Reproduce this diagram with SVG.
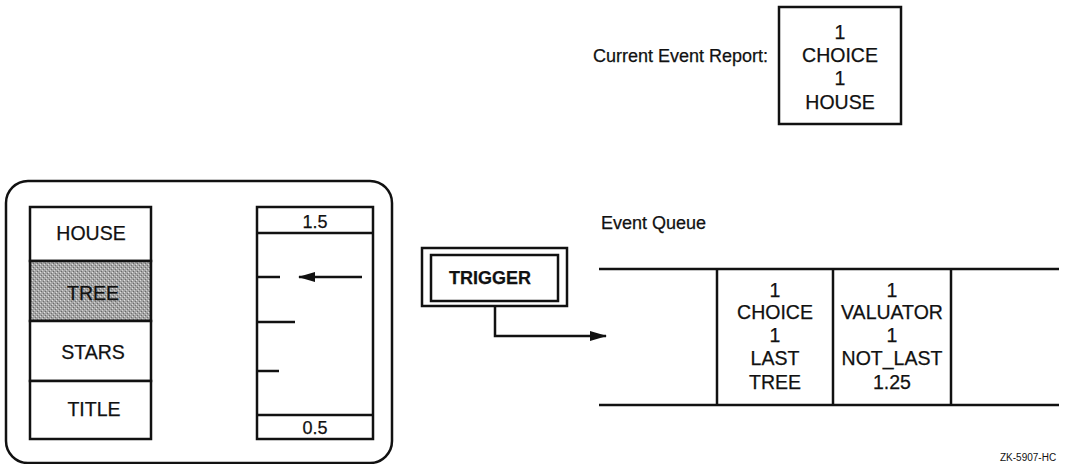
<svg xmlns="http://www.w3.org/2000/svg" width="1066" height="464" viewBox="0 0 1066 464">
<defs>
<style>
.t{font-family:"Liberation Sans",Arial,sans-serif;font-size:19.5px;fill:#111;text-anchor:middle;stroke:#111;stroke-width:0.25}
.s{font-family:"Liberation Sans",Arial,sans-serif;font-size:18px;fill:#111;stroke:#111;stroke-width:0.25}
.b{stroke:#111;stroke-width:2.5;fill:none}
.f{stroke:#111;stroke-width:2.5;fill:#fff}
</style>
<pattern id="stip" width="4" height="4" patternUnits="userSpaceOnUse">
<rect width="4" height="4" fill="#a4a4a4"/>
<rect x="0" y="0" width="1" height="1" fill="#e0e0e0"/>
<rect x="2" y="2" width="1" height="1" fill="#d0d0d0"/>
<rect x="1" y="3" width="1" height="1" fill="#6a6a6a"/>
<rect x="3" y="1" width="1" height="1" fill="#707070"/>
</pattern>
<marker id="ah" markerWidth="17" markerHeight="10" refX="16" refY="5" orient="auto" markerUnits="userSpaceOnUse">
<path d="M0,0 L17,5 L0,10 Z" fill="#111"/>
</marker>
</defs>
<rect width="1066" height="464" fill="#fff"/>

<g id="current-event-report">
<text class="s" x="768" y="62" text-anchor="end">Current Event Report:</text>
<rect class="f" x="779" y="7" width="122" height="117"/>
<text class="t" x="840" y="39">1</text>
<text class="t" x="840" y="62">CHOICE</text>
<text class="t" x="840" y="85">1</text>
<text class="t" x="840" y="109">HOUSE</text>
</g>

<g id="workstation">
<rect class="b" x="6" y="181" width="386" height="282" rx="22" ry="22"/>
</g>

<g id="choice-menu">
<rect class="f" x="30" y="207" width="121" height="54"/>
<text class="t" x="91" y="240">HOUSE</text>
<rect x="30" y="261" width="121" height="60" fill="url(#stip)" stroke="#111" stroke-width="2.5"/>
<text class="t" x="93" y="300">TREE</text>
<rect class="f" x="30" y="321" width="121" height="60"/>
<text class="t" x="93" y="359">STARS</text>
<rect class="f" x="30" y="381" width="121" height="58"/>
<text class="t" x="94" y="416">TITLE</text>
</g>

<g id="valuator">
<rect class="f" x="257" y="207" width="116" height="232"/>
<line class="b" x1="257" y1="233" x2="373" y2="233"/>
<line class="b" x1="257" y1="415" x2="373" y2="415"/>
<text class="t" x="315" y="228" style="font-size:18px">1.5</text>
<text class="t" x="315" y="434" style="font-size:18px">0.5</text>
<line class="b" x1="258" y1="277" x2="280" y2="277"/>
<line class="b" x1="258" y1="322" x2="295" y2="322"/>
<line class="b" x1="258" y1="371" x2="279" y2="371"/>
</g>

<g id="trigger">
<rect class="f" x="422" y="248" width="145" height="58"/>
<rect class="b" x="431" y="255" width="127" height="46" stroke-width="2"/>
<text class="t" x="490" y="284" style="font-weight:bold;font-size:18px">TRIGGER</text>
</g>

<g id="event-queue">
<text class="s" x="601" y="229">Event Queue</text>
<line class="b" x1="599" y1="269" x2="1059" y2="269"/>
<line class="b" x1="599" y1="405" x2="1059" y2="405"/>
<line class="b" x1="717" y1="269" x2="717" y2="405"/>
<line class="b" x1="833" y1="269" x2="833" y2="405"/>
<line class="b" x1="951" y1="269" x2="951" y2="405"/>
<text class="t" x="775" y="297">1</text>
<text class="t" x="775" y="319">CHOICE</text>
<text class="t" x="775" y="342">1</text>
<text class="t" x="775" y="365">LAST</text>
<text class="t" x="775" y="389">TREE</text>
<text class="t" x="892" y="297">1</text>
<text class="t" x="892" y="319">VALUATOR</text>
<text class="t" x="892" y="342">1</text>
<text class="t" x="892" y="365">NOT_LAST</text>
<text class="t" x="892" y="389">1.25</text>
</g>

<g id="connectors">
<line class="b" x1="362" y1="277" x2="299" y2="277" marker-end="url(#ah)"/>
<polyline class="b" points="495,306 495,336 606,336" marker-end="url(#ah)"/>
</g>

<text x="1000" y="461" style="font-family:'Liberation Sans',Arial,sans-serif;font-size:10px;fill:#111">ZK-5907-HC</text>
</svg>
